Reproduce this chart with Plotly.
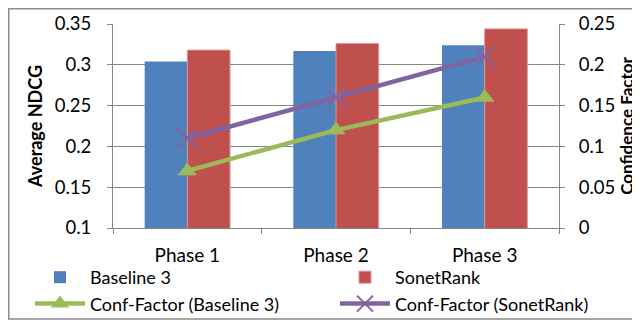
import plotly.graph_objects as go

categories = ["Phase 1", "Phase 2", "Phase 3"]
baseline3_ndcg = [0.304, 0.317, 0.324]
sonetrank_ndcg = [0.318, 0.326, 0.344]
conf_baseline3 = [0.07, 0.12, 0.16]
conf_sonetrank = [0.11, 0.16, 0.21]
left_ticks = [0.1, 0.15, 0.2, 0.25, 0.3, 0.35]
left_tick_text = ["0.1", "0.15", "0.2", "0.25", "0.3", "0.35"]
right_ticks = [0, 0.05, 0.1, 0.15, 0.2, 0.25]
right_tick_text = ["0", "0.05", "0.1", "0.15", "0.2", "0.25"]

FONT = "Lato"
GRID = "#878787"
# the page body has an 8px margin, so the figure is 632x312 placed at (8, 8)
OFF = 8
W, H = 640 - OFF, 320 - OFF
# plot-area edges in page pixels
PX0, PX1, PY0, PY1 = 113 - OFF, 559 - OFF, 24 - OFF, 228 - OFF

fig = go.Figure()
fig.add_trace(go.Bar(x=categories, y=baseline3_ndcg, name="Baseline 3",
                     marker=dict(color="#4F81BD", line=dict(width=0)), yaxis="y"))
fig.add_trace(go.Bar(x=categories, y=sonetrank_ndcg, name="SonetRank",
                     marker=dict(color="#C0504D", line=dict(width=1, color="#D99694")), yaxis="y"))
fig.add_trace(go.Scatter(x=categories, y=conf_baseline3, name="Conf-Factor (Baseline 3)",
                         mode="lines+markers", yaxis="y2",
                         line=dict(color="#9BBB59", width=4.5),
                         marker=dict(symbol="triangle-up", size=17, color="#9BBB59")))
fig.add_trace(go.Scatter(x=categories, y=conf_sonetrank, name="Conf-Factor (SonetRank)",
                         mode="lines+markers", yaxis="y2",
                         line=dict(color="#8064A2", width=4.5),
                         marker=dict(symbol="x-thin", size=20, color="#8064A2",
                                     line=dict(width=2, color="#8064A2"))))

fig.update_layout(
    width=W, height=H,
    margin=dict(l=0, r=0, t=0, b=0, pad=0, autoexpand=False),
    paper_bgcolor="white", plot_bgcolor="white",
    font=dict(family=FONT, size=18, color="black"),
    barmode="group", bargap=0.426, bargroupgap=0,
    showlegend=True,
    legend=dict(orientation="h", x=(30 - OFF) / W, xanchor="left",
                y=(H - (259 - OFF)) / H, yanchor="top",
                entrywidth=240, entrywidthmode="pixels", itemwidth=50,
                traceorder="normal", tracegroupgap=0,
                font=dict(family=FONT, size=18),
                bgcolor="rgba(0,0,0,0)"),
    xaxis=dict(domain=[PX0 / W, PX1 / W], anchor="y",
               showgrid=False, showline=True, linecolor=GRID, linewidth=1,
               ticks="outside", tickson="boundaries", ticklen=5, tickcolor=GRID,
               tickfont=dict(size=19), ticklabelstandoff=10, automargin=False),
    yaxis=dict(domain=[(H - PY1) / H, (H - PY0) / H], anchor="x",
               range=[0.1, 0.35], tickvals=left_ticks, ticktext=left_tick_text,
               showgrid=True, gridcolor=GRID, gridwidth=1, zeroline=False,
               showline=True, linecolor=GRID, linewidth=1,
               ticks="outside", ticklen=5, tickcolor=GRID, ticklabelstandoff=12,
               tickfont=dict(size=18.5), automargin=False,
               title=dict(text="<b>Average NDCG</b>", font=dict(size=18), standoff=7)),
    yaxis2=dict(range=[0, 0.25], tickvals=right_ticks, ticktext=right_tick_text,
                overlaying="y", side="right", anchor="x", showgrid=False, zeroline=False,
                showline=True, linecolor=GRID, linewidth=1,
                ticks="outside", ticklen=5, tickcolor=GRID, ticklabelstandoff=10,
                tickfont=dict(size=18.5), automargin=False,
                title=dict(text="<b>Confidence Factor</b>", font=dict(size=17), standoff=6)),
    shapes=[dict(type="rect", xref="paper", yref="paper",
                 x0=0.75 / W, x1=(W + 5) / W,
                 y0=(H - (319 - OFF)) / H, y1=(H - 0.75) / H,
                 line=dict(color="#8C8C8C", width=1.5), fillcolor="rgba(0,0,0,0)", layer="below")],
)

fig.write_html("out.html")
